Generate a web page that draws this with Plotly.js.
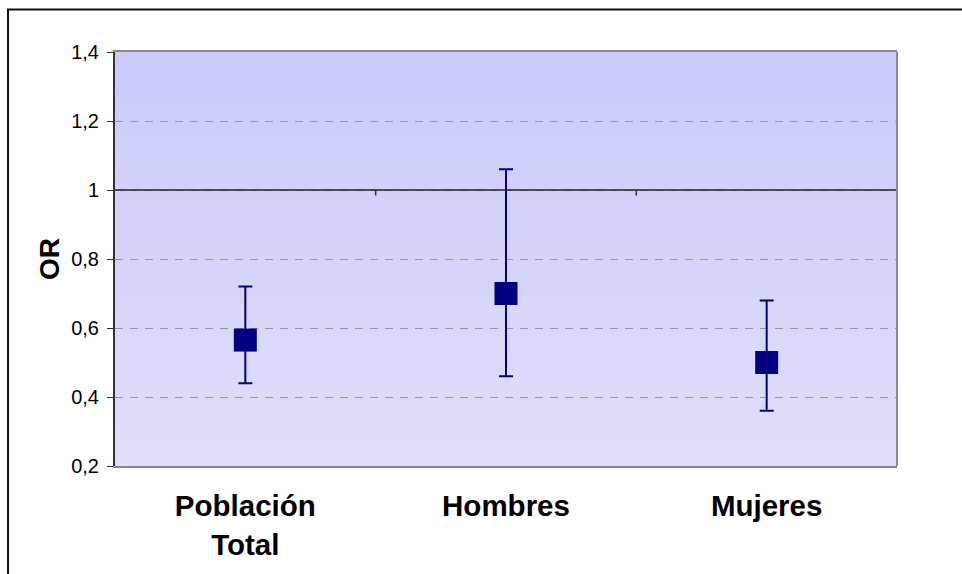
<!DOCTYPE html>
<html>
<head>
<meta charset="utf-8">
<script src="https://cdn.plot.ly/plotly-3.0.1.min.js"></script>
<style>
  html, body { margin: 0; padding: 0; background: #ffffff; }
  #chart { width: 962px; height: 574px; }
</style>
</head>
<body>
<div id="chart"></div>
<script>
// Odds ratios with 95% confidence intervals by group
const groups = ['Población<br>Total', 'Hombres', 'Mujeres'];
const oddsRatio = [0.565, 0.70, 0.50];
const ciLower = [0.44, 0.46, 0.36];
const ciUpper = [0.72, 1.06, 0.68];
const yTicks = [0.2, 0.4, 0.6, 0.8, 1, 1.2, 1.4];
const referenceOR = 1;

const navy = '#000080';

// Vertical lavender gradient for the plotting area
const gradientSvg =
  '<svg xmlns="http://www.w3.org/2000/svg" width="10" height="100" preserveAspectRatio="none">' +
  '<defs><linearGradient id="g" x1="0" y1="0" x2="0" y2="1">' +
  '<stop offset="0" stop-color="#cacafc"/><stop offset="1" stop-color="#dfdff9"/>' +
  '</linearGradient></defs><rect width="10" height="100" fill="url(#g)"/></svg>';
const gradientUri = 'data:image/svg+xml;base64,' + btoa(gradientSvg);

const trace = {
  type: 'scatter',
  mode: 'markers',
  x: groups,
  y: oddsRatio,
  marker: { symbol: 'square', size: 23, color: navy, line: { width: 0 } },
  error_y: {
    type: 'data',
    symmetric: false,
    array: oddsRatio.map((v, i) => ciUpper[i] - v),
    arrayminus: oddsRatio.map((v, i) => v - ciLower[i]),
    color: navy,
    thickness: 2,
    width: 7
  },
  hoverinfo: 'x+y'
};

// Horizontal axis crossing at OR = 1, with ticks on the category boundaries
const crossShapes = [
  { type: 'line', xref: 'paper', yref: 'y', x0: 0, x1: 1, y0: referenceOR, y1: referenceOR,
    line: { color: '#222222', width: 1.5 }, layer: 'above' }
];
for (let i = 1; i <= groups.length; i++) {
  crossShapes.push({
    type: 'line', xref: 'x', yref: 'y',
    x0: i - 0.5, x1: i - 0.5, y0: referenceOR, y1: referenceOR - 0.016,
    line: { color: '#333333', width: 1.5 }, layer: 'above'
  });
}

const layout = {
  width: 962,
  height: 574,
  margin: { l: 115, r: 65, t: 52, b: 108 },
  paper_bgcolor: '#ffffff',
  plot_bgcolor: 'rgba(0,0,0,0)',
  separators: ',.',
  showlegend: false,
  font: { family: 'Liberation Sans, Arial, sans-serif', color: '#000000' },
  xaxis: {
    type: 'category',
    range: [-0.5, 2.5],
    showgrid: false,
    zeroline: false,
    showline: true,
    linecolor: '#8a8a8a',
    linewidth: 2,
    mirror: true,
    ticks: '',
    ticklabelstandoff: 13,
    tickfont: { size: 29.5, family: 'Liberation Sans, Arial, sans-serif', weight: 'bold' },
    fixedrange: true
  },
  yaxis: {
    range: [0.2, 1.4],
    tickvals: yTicks,
    showgrid: true,
    gridcolor: '#999999',
    gridwidth: 1,
    griddash: '8px,7px',
    zeroline: false,
    showline: true,
    linecolor: '#333333',
    linewidth: 2,
    ticks: 'outside',
    ticklen: 6,
    tickwidth: 1,
    tickcolor: '#333333',
    ticklabelstandoff: 4,
    tickfont: { size: 20, family: 'Liberation Sans, Arial, sans-serif' },
    title: {
      text: 'OR',
      standoff: 3,
      font: { size: 28, family: 'Liberation Sans, Arial, sans-serif', weight: 'bold' }
    },
    fixedrange: true
  },
  images: [{
    source: gradientUri,
    xref: 'paper', yref: 'paper',
    x: 0, y: 1, sizex: 1, sizey: 1,
    xanchor: 'left', yanchor: 'top',
    sizing: 'stretch',
    layer: 'below'
  }],
  shapes: crossShapes.concat([
    // right edge of the plotting area
    { type: 'line', xref: 'paper', yref: 'paper', x0: 1, x1: 1, y0: 0, y1: 1,
      line: { color: '#8a8a8a', width: 2 }, layer: 'above' },
    // outer chart frame
    { type: 'rect', xref: 'paper', yref: 'paper',
      x0: -0.1368, x1: 1.3, y0: -0.4, y1: 1.1025,
      line: { color: '#111111', width: 2 }, fillcolor: 'rgba(0,0,0,0)', layer: 'above' }
  ])
};

Plotly.newPlot('chart', [trace], layout, { displayModeBar: false, staticPlot: true });
</script>
</body>
</html>
